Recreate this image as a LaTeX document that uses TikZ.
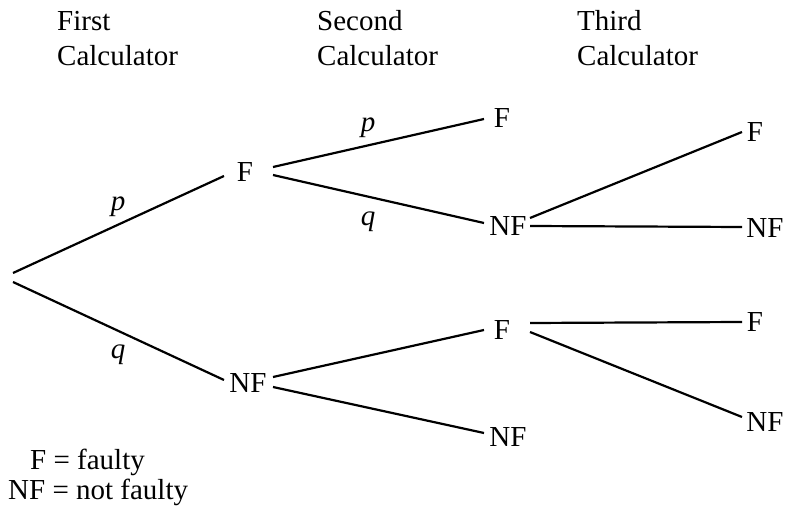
\documentclass[tikz,border=0pt]{standalone}
\usepackage{fontspec}
\setmainfont{Liberation Serif}
\usetikzlibrary{calc}
\begin{document}
\begin{tikzpicture}[x=1pt,y=-1pt,
  lbl/.style={inner sep=0pt,font=\fontsize{29}{35}\selectfont},
  hdr/.style={lbl,align=left,anchor=base west},
  edge/.style={line width=2.2pt}]
\useasboundingbox (0,0) rectangle (785,521);
% headers (anchor at baseline of the second line)
\node[hdr] (h1) at (57,66) {First\\Calculator};
\node[hdr] (h2) at (317,66) {Second\\Calculator};
\node[hdr] (h3) at (577,66) {Third\\Calculator};
% tree nodes
\coordinate (root) at (13,277.5);
\node[lbl] (F1) at (245,172) {F};
\node[lbl] (NF1) at (248,383) {NF};
\node[lbl] (F2a) at (502,118) {F};
\node[lbl] (NF2a) at (508,226) {NF};
\node[lbl] (F2b) at (502,330) {F};
\node[lbl] (NF2b) at (508,437) {NF};
\node[lbl] (F3a) at (755,132) {F};
\node[lbl] (NF3a) at (765,228) {NF};
\node[lbl] (F3b) at (755,322) {F};
\node[lbl] (NF3b) at (765,422) {NF};
% probability labels
\node[lbl] (p1) at (118,207) {\textit{p}};
\node[lbl] (q1) at (118,355) {\textit{q}};
\node[lbl] (p2) at (368,128) {\textit{p}};
\node[lbl] (q2) at (368,222) {\textit{q}};
% connectors
\draw[edge] ($(root)+(0,-4.5)$) -- ($(F1)+(-21,4)$);
\draw[edge] ($(root)+(0,4.5)$) -- ($(NF1)+(-24,-3)$);
\draw[edge] ($(F1)+(28,-5)$) -- ($(F2a)+(-18,1)$);
\draw[edge] ($(F1)+(28,3)$) -- ($(NF2a)+(-24,-3)$);
\draw[edge] ($(NF1)+(25,-6)$) -- ($(F2b)+(-18,0)$);
\draw[edge] ($(NF1)+(25,4)$) -- ($(NF2b)+(-24,-4)$);
\draw[edge] ($(NF2a)+(22,-8)$) -- ($(F3a)+(-13,0)$);
\draw[edge] ($(NF2a)+(22,0)$) -- ($(NF3a)+(-23,-1)$);
\draw[edge] ($(F2b)+(28,-7)$) -- ($(F3b)+(-13,0)$);
\draw[edge] ($(F2b)+(28,2)$) -- ($(NF3b)+(-23,-5)$);
% legend
\node[lbl,anchor=base west] (leg1) at (30,469) {F = faulty};
\node[lbl,anchor=base west] (leg2) at (8,499) {NF = not faulty};
\end{tikzpicture}
\end{document}
